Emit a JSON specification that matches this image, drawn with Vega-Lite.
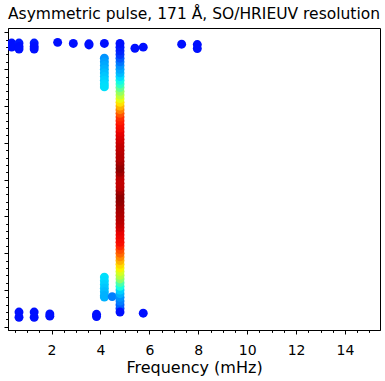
{
  "$schema": "https://vega.github.io/schema/vega-lite/v6.json",
  "autosize": {"type": "none"},
  "padding": {"left": 8, "top": 28, "right": 5, "bottom": 51},
  "width": 372,
  "height": 302,
  "background": "white",
  "title": {"text": "Asymmetric pulse, 171 Å, SO/HRIEUV resolution", "font": "DejaVu Sans", "fontSize": 15.5, "fontWeight": "normal", "color": "black", "anchor": "middle", "offset": 6},
  "config": {"view": {"stroke": "black", "strokeWidth": 1}},
  "data": {"values": [
    {"f": 0.37, "t": 7.71, "p": 0.14}, {"f": 0.37, "t": 7.60, "p": 0.14},
    {"f": 0.67, "t": 7.71, "p": 0.15}, {"f": 0.67, "t": 7.62, "p": 0.14}, {"f": 0.67, "t": 7.55, "p": 0.14},
    {"f": 1.29, "t": 7.71, "p": 0.15}, {"f": 1.29, "t": 7.62, "p": 0.14}, {"f": 1.29, "t": 7.55, "p": 0.14},
    {"f": 2.25, "t": 7.73, "p": 0.14}, {"f": 2.89, "t": 7.70, "p": 0.14}, {"f": 3.53, "t": 7.69, "p": 0.14}, {"f": 3.53, "t": 7.66, "p": 0.14},
    {"f": 4.16, "t": 7.70, "p": 0.14}, {"f": 5.41, "t": 7.57, "p": 0.14}, {"f": 5.75, "t": 7.60, "p": 0.14},
    {"f": 7.32, "t": 7.68, "p": 0.14}, {"f": 7.96, "t": 7.67, "p": 0.14}, {"f": 7.96, "t": 7.56, "p": 0.14},
    {"f": 0.67, "t": 0.40, "p": 0.14}, {"f": 0.67, "t": 0.26, "p": 0.14},
    {"f": 1.29, "t": 0.40, "p": 0.14}, {"f": 1.29, "t": 0.26, "p": 0.14},
    {"f": 1.93, "t": 0.35, "p": 0.14}, {"f": 1.93, "t": 0.29, "p": 0.14},
    {"f": 3.84, "t": 0.34, "p": 0.14}, {"f": 3.84, "t": 0.28, "p": 0.14},
    {"f": 5.75, "t": 0.37, "p": 0.14},
    {"f": 4.16, "t": 7.30, "p": 0.27}, {"f": 4.16, "t": 7.20, "p": 0.28}, {"f": 4.16, "t": 7.10, "p": 0.29}, {"f": 4.16, "t": 7.00, "p": 0.30},
    {"f": 4.16, "t": 6.90, "p": 0.31}, {"f": 4.16, "t": 6.80, "p": 0.32}, {"f": 4.16, "t": 6.70, "p": 0.33}, {"f": 4.16, "t": 6.60, "p": 0.34}, {"f": 4.16, "t": 6.52, "p": 0.345},
    {"f": 4.16, "t": 1.35, "p": 0.345}, {"f": 4.16, "t": 1.25, "p": 0.34}, {"f": 4.16, "t": 1.15, "p": 0.33}, {"f": 4.16, "t": 1.05, "p": 0.32},
    {"f": 4.16, "t": 0.95, "p": 0.31}, {"f": 4.16, "t": 0.85, "p": 0.30}, {"f": 4.16, "t": 0.81, "p": 0.30},
    {"f": 4.48, "t": 0.82, "p": 0.25},
    {"f": 4.8, "t": 0.5, "p": 0.19}, {"f": 4.8, "t": 0.6, "p": 0.22}, {"f": 4.8, "t": 0.7, "p": 0.25}, {"f": 4.8, "t": 0.8, "p": 0.27},
    {"f": 4.8, "t": 0.9, "p": 0.30}, {"f": 4.8, "t": 1.0, "p": 0.33}, {"f": 4.8, "t": 1.1, "p": 0.38}, {"f": 4.8, "t": 1.2, "p": 0.44},
    {"f": 4.8, "t": 1.3, "p": 0.52}, {"f": 4.8, "t": 1.4, "p": 0.57}, {"f": 4.8, "t": 1.5, "p": 0.61}, {"f": 4.8, "t": 1.6, "p": 0.65},
    {"f": 4.8, "t": 1.7, "p": 0.68}, {"f": 4.8, "t": 1.8, "p": 0.72}, {"f": 4.8, "t": 1.9, "p": 0.76}, {"f": 4.8, "t": 2.0, "p": 0.80},
    {"f": 4.8, "t": 2.1, "p": 0.83}, {"f": 4.8, "t": 2.2, "p": 0.87}, {"f": 4.8, "t": 2.3, "p": 0.895}, {"f": 4.8, "t": 2.4, "p": 0.90},
    {"f": 4.8, "t": 2.5, "p": 0.905}, {"f": 4.8, "t": 2.6, "p": 0.91}, {"f": 4.8, "t": 2.7, "p": 0.93}, {"f": 4.8, "t": 2.8, "p": 0.94},
    {"f": 4.8, "t": 2.9, "p": 0.95}, {"f": 4.8, "t": 3.0, "p": 0.955}, {"f": 4.8, "t": 3.1, "p": 0.96}, {"f": 4.8, "t": 3.2, "p": 0.965},
    {"f": 4.8, "t": 3.3, "p": 0.97}, {"f": 4.8, "t": 3.4, "p": 0.98}, {"f": 4.8, "t": 3.5, "p": 0.985}, {"f": 4.8, "t": 3.6, "p": 0.985},
    {"f": 4.8, "t": 3.7, "p": 0.97}, {"f": 4.8, "t": 3.8, "p": 0.95}, {"f": 4.8, "t": 3.9, "p": 0.945}, {"f": 4.8, "t": 4.0, "p": 0.945},
    {"f": 4.8, "t": 4.1, "p": 0.95}, {"f": 4.8, "t": 4.2, "p": 0.97}, {"f": 4.8, "t": 4.3, "p": 0.985}, {"f": 4.8, "t": 4.4, "p": 0.98},
    {"f": 4.8, "t": 4.5, "p": 0.965}, {"f": 4.8, "t": 4.6, "p": 0.955}, {"f": 4.8, "t": 4.7, "p": 0.955}, {"f": 4.8, "t": 4.8, "p": 0.95},
    {"f": 4.8, "t": 4.9, "p": 0.945}, {"f": 4.8, "t": 5.0, "p": 0.94}, {"f": 4.8, "t": 5.1, "p": 0.93}, {"f": 4.8, "t": 5.2, "p": 0.92},
    {"f": 4.8, "t": 5.3, "p": 0.91}, {"f": 4.8, "t": 5.4, "p": 0.90}, {"f": 4.8, "t": 5.5, "p": 0.895}, {"f": 4.8, "t": 5.6, "p": 0.88},
    {"f": 4.8, "t": 5.7, "p": 0.86}, {"f": 4.8, "t": 5.8, "p": 0.82}, {"f": 4.8, "t": 5.9, "p": 0.77}, {"f": 4.8, "t": 6.0, "p": 0.72},
    {"f": 4.8, "t": 6.1, "p": 0.67}, {"f": 4.8, "t": 6.2, "p": 0.63}, {"f": 4.8, "t": 6.3, "p": 0.58}, {"f": 4.8, "t": 6.4, "p": 0.53},
    {"f": 4.8, "t": 6.5, "p": 0.47}, {"f": 4.8, "t": 6.6, "p": 0.41}, {"f": 4.8, "t": 6.7, "p": 0.37}, {"f": 4.8, "t": 6.8, "p": 0.34},
    {"f": 4.8, "t": 6.9, "p": 0.31}, {"f": 4.8, "t": 7.0, "p": 0.29}, {"f": 4.8, "t": 7.1, "p": 0.27}, {"f": 4.8, "t": 7.2, "p": 0.24},
    {"f": 4.8, "t": 7.3, "p": 0.21}, {"f": 4.8, "t": 7.4, "p": 0.18}, {"f": 4.8, "t": 7.5, "p": 0.16}, {"f": 4.8, "t": 7.6, "p": 0.15},
    {"f": 4.8, "t": 7.7, "p": 0.14}, {"f": 4.8, "t": 0.4, "p": 0.14}
  ]},
  "mark": {"type": "point", "filled": true, "size": 80, "opacity": 1, "strokeWidth": 0, "clip": true},
  "encoding": {
    "x": {"field": "f", "type": "quantitative",
      "scale": {"domain": [0.22, 15.43], "nice": false, "zero": false},
      "axis": {"title": "Frequency (mHz)",
        "values": [0.5,1,1.5,2,2.5,3,3.5,4,4.5,5,5.5,6,6.5,7,7.5,8,8.5,9,9.5,10,10.5,11,11.5,12,12.5,13,13.5,14,14.5,15],
        "labelExpr": "datum.value % 2 === 0 ? '' + datum.value : ''",
        "tickSize": {"condition": {"test": "datum.value % 2 === 0", "value": 4}, "value": 2.4},
        "grid": false, "domainColor": "black", "domainWidth": 1, "tickColor": "black", "tickWidth": 1,
        "labelFont": "DejaVu Sans", "labelFontSize": 14, "labelColor": "black", "labelPadding": 9,
        "labelOverlap": false, "labelFlush": false,
        "titleFont": "DejaVu Sans", "titleFontSize": 16, "titleFontWeight": "normal", "titleColor": "black", "titlePadding": 2}},
    "y": {"field": "t", "type": "quantitative",
      "scale": {"domain": [-0.087, 8.12], "nice": false, "zero": false},
      "axis": {"title": null, "labels": false,
        "values": [0,0.2,0.4,0.6,0.8,1,1.2,1.4,1.6,1.8,2,2.2,2.4,2.6,2.8,3,3.2,3.4,3.6,3.8,4,4.2,4.4,4.6,4.8,5,5.2,5.4,5.6,5.8,6,6.2,6.4,6.6,6.8,7,7.2,7.4,7.6,7.8,8],
        "tickSize": {"condition": {"test": "abs(datum.value - round(datum.value)) < 0.001", "value": 4}, "value": 2.4},
        "grid": false, "domainColor": "black", "domainWidth": 1, "tickColor": "black", "tickWidth": 1}},
    "color": {"field": "p", "type": "quantitative", "legend": null,
      "scale": {"domain": [0, 0.11, 0.125, 0.34, 0.35, 0.375, 0.64, 0.65, 0.66, 0.89, 0.91, 1],
        "range": ["#000080", "#0000ff", "#0000ff", "#00dbff", "#00e6f7", "#14ffe2", "#eeff08", "#f7f500", "#ffec00", "#ff1300", "#e80000", "#800000"],
        "interpolate": "rgb"}}
  }
}
